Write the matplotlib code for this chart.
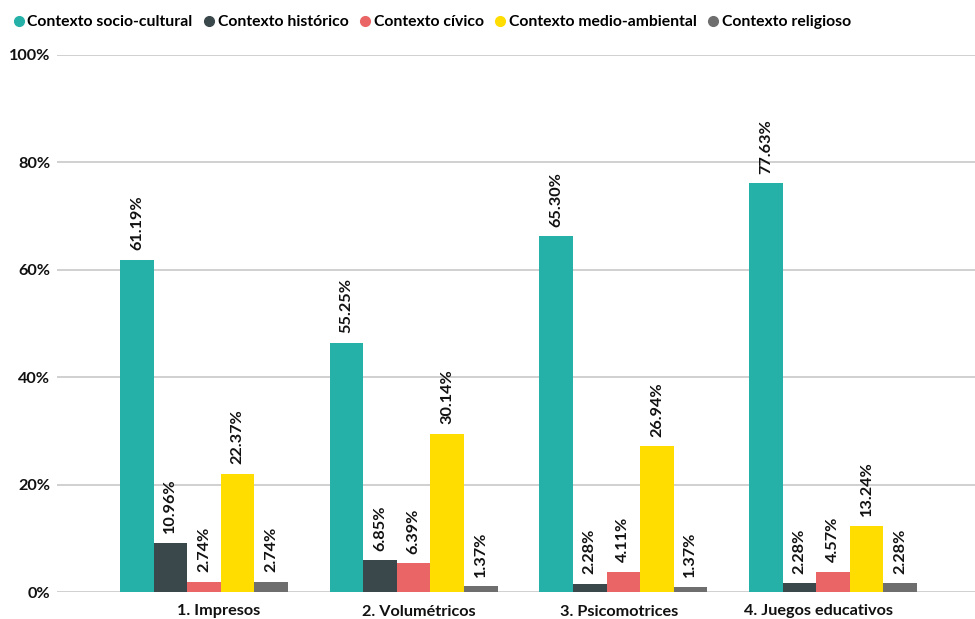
import matplotlib
matplotlib.use("Agg")
import matplotlib.pyplot as plt
from matplotlib.lines import Line2D
import numpy as np

plt.rcParams['font.family'] = ['Lato', 'DejaVu Sans']

categories = ["1. Impresos", "2. Volumétricos", "3. Psicomotrices", "4. Juegos educativos"]
series_names = ["Contexto socio-cultural", "Contexto histórico", "Contexto cívico",
                "Contexto medio-ambiental", "Contexto religioso"]
colors = ["#26B1A8", "#3A474B", "#EA6566", "#FFDD00", "#6E6E6E"]

# bar heights as drawn (%)
socio = [61.75, 46.35, 66.2, 76.05]
hist = [9.1, 5.9, 1.5, 1.6]
civ = [1.9, 5.35, 3.75, 3.8]
medio = [22.05, 29.45, 27.1, 12.3]
relig = [1.9, 1.05, 1.0, 1.6]

# data labels as printed (%)
socio_lbl = [61.19, 55.25, 65.30, 77.63]
hist_lbl = [10.96, 6.85, 2.28, 2.28]
civ_lbl = [2.74, 6.39, 4.11, 4.57]
medio_lbl = [22.37, 30.14, 26.94, 13.24]
relig_lbl = [2.74, 1.37, 1.37, 2.28]

yticks = [0, 20, 40, 60, 80, 100]

values = [socio, hist, civ, medio, relig]
labels = [socio_lbl, hist_lbl, civ_lbl, medio_lbl, relig_lbl]

FS = 11.7

fig = plt.figure(figsize=(9.75, 6.19), dpi=100)
ax = fig.add_axes([57/975, (619-592)/619, 1 - 57/975, (592-54.7)/619])

x = np.arange(len(categories))
w = 0.16
for j, (vals, lbls, col) in enumerate(zip(values, labels, colors)):
    xs = x + (j - 2) * w
    ax.bar(xs, vals, width=w, color=col, zorder=3, linewidth=0)
    for xi, v, l in zip(xs, vals, lbls):
        ax.annotate(f"{l:.2f}%", (xi, v), xytext=(0, 7), textcoords="offset points",
                    rotation=90, ha="center", va="bottom", fontsize=FS,
                    fontweight="bold", color="#111111")

ax.set_xlim(-0.701, 3.677)
ax.set_ylim(0, 100)
ax.set_yticks(yticks)
ax.set_yticklabels([f"{t}%" for t in yticks], fontsize=FS, fontweight="bold", color="#111111")
ax.set_xticks(x * 0.954 + 0.07)
ax.set_xticklabels(categories, fontsize=FS, fontweight="bold", color="#111111")
ax.tick_params(axis="both", length=0)
ax.tick_params(axis="y", pad=5)
ax.tick_params(axis="x", pad=9)
ax.grid(axis="y", color="#C8C8C8", linewidth=1.2, zorder=0)
for s in ax.spines.values():
    s.set_visible(False)

handles = [Line2D([0], [0], marker="o", linestyle="", markersize=7,
                  markerfacecolor=c, markeredgecolor=c) for c in colors]
leg = fig.legend(handles, series_names, loc="upper left", bbox_to_anchor=(0.0, 0.993),
                 ncol=5, frameon=False, handletextpad=0.05, columnspacing=0.55,
                 handlelength=1.0, borderaxespad=0.3,
                 prop={"weight": "bold", "size": 11.3})

fig.savefig("out.png", dpi=100)
